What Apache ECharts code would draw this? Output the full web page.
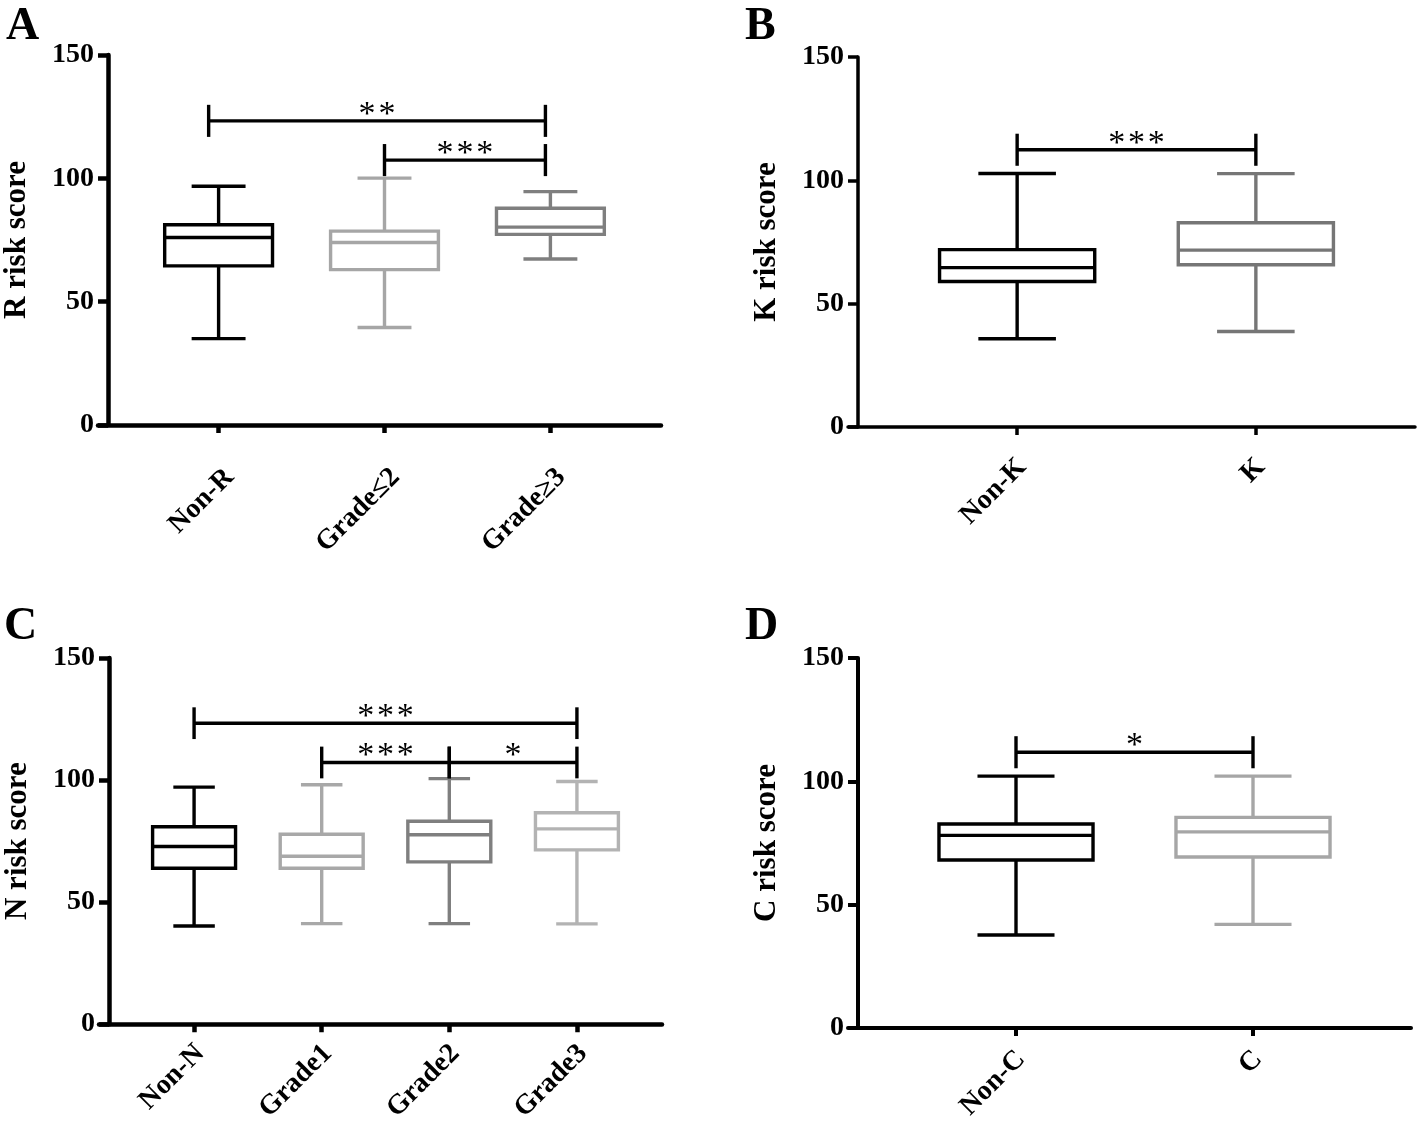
<!DOCTYPE html>
<html>
<head>
<meta charset="utf-8">
<script src="https://cdn.jsdelivr.net/npm/echarts@6/dist/echarts.min.js"></script>
<style>
html,body{margin:0;padding:0;background:#fff;}
#chart{width:1418px;height:1125px;}
</style>
</head>
<body>
<div id="chart"></div>
<script>
// ---------- DATA ----------
// Panel A
const catsA = ['Non-R', 'Grade≤2', 'Grade≥3'];
const minA = [35.0, 39.5, 67.3];
const q1A  = [64.5, 63.0, 77.3];
const medA = [76.0, 74.0, 80.2];
const q3A  = [81.2, 78.6, 87.9];
const maxA = [96.8, 100.1, 94.6];
const sigFromA = [-0.06, 1];
const sigToA   = [1.97, 1.97];
const sigYA    = [123.3, 107.4];
const sigTextA = ['**', '***'];

// Panel B
const catsB = ['Non-K', 'K'];
const minB = [35.8, 38.7];
const q1B  = [59.0, 65.8];
const medB = [64.6, 71.7];
const q3B  = [71.9, 82.8];
const maxB = [102.8, 102.7];
const sigFromB = [0];
const sigToB   = [1];
const sigYB    = [112.4];
const sigTextB = ['***'];

// Panel C
const catsC = ['Non-N', 'Grade1', 'Grade2', 'Grade3'];
const minC = [40.2, 41.2, 41.2, 41.1];
const q1C  = [63.9, 63.9, 66.5, 71.4];
const medC = [72.8, 68.8, 77.6, 80.0];
const q3C  = [80.9, 77.8, 83.1, 86.6];
const maxC = [97.1, 98.1, 100.6, 99.4];
const sigFromC = [0, 1, 2];
const sigToC   = [3, 2, 3];
const sigYC    = [123.3, 107.2, 107.2];
const sigTextC = ['***', '***', '*'];

// Panel D
const catsD = ['Non-C', 'C'];
const minD = [37.7, 42.0];
const q1D  = [68.1, 69.3];
const medD = [78.1, 79.5];
const q3D  = [82.7, 85.4];
const maxD = [102.1, 102.1];
const sigFromD = [0];
const sigToD   = [1];
const sigYD    = [111.8];
const sigTextD = ['*'];

const yTicks = [0, 50, 100, 150];

// ---------- STYLE ----------
const SERIF = '"Liberation Serif", "Times New Roman", serif';
const panels = [
  {letter:'A', name:'R risk score', cats:catsA, mn:minA, q1:q1A, md:medA, q3:q3A, mx:maxA,
   sf:sigFromA, st:sigToA, sy:sigYA, stx:sigTextA,
   colors:['#000000', '#a6a6a6', '#7f7f7f'],
   grid:{left:98, top:55, width:563, height:370}, axisW:4.5, labelMargin:48, labelShift:11, letterPos:[6,4]},
  {letter:'B', name:'K risk score', cats:catsB, mn:minB, q1:q1B, md:medB, q3:q3B, mx:maxB,
   sf:sigFromB, st:sigToB, sy:sigYB, stx:sigTextB,
   colors:['#000000', '#767676'],
   grid:{left:848, top:57, width:567, height:370}, axisW:3.5, labelMargin:36, labelShift:5, letterPos:[745,4]},
  {letter:'C', name:'N risk score', cats:catsC, mn:minC, q1:q1C, md:medC, q3:q3C, mx:maxC,
   sf:sigFromC, st:sigToC, sy:sigYC, stx:sigTextC,
   colors:['#000000', '#a8a8a8', '#7f7f7f', '#b3b3b3'],
   grid:{left:99, top:658, width:563, height:369}, axisW:4.5, labelMargin:25, labelShift:6, letterPos:[4,604]},
  {letter:'D', name:'C risk score', cats:catsD, mn:minD, q1:q1D, md:medD, q3:q3D, mx:maxD,
   sf:sigFromD, st:sigToD, sy:sigYD, stx:sigTextD,
   colors:['#000000', '#a6a6a6'],
   grid:{left:848, top:658, width:563, height:370}, axisW:4, labelMargin:27, labelShift:5, letterPos:[745,604]}
];
const BOX_W = 0.65;      // box width in category steps
const LW = 3.4;          // line width of boxes / brackets
const TICK_H = 6.5;      // bracket end tick half height (data units)
const YTICK_LEN = 10;

const grids = [], xAxes = [], yAxes = [], series = [], graphics = [];

panels.forEach(function(p, k) {
  const n = p.cats.length;
  const span = (n - 1) + 4 / 3;
  const step = (p.grid.width - YTICK_LEN) / span;
  const xmin = -2 / 3 - YTICK_LEN / step;
  const xmax = (n - 1) + 2 / 3;
  const idx = p.cats.map(function(_, i) { return i; });
  const shift = p.labelShift / step;
  const labelPos = idx.map(function(i) { return i + shift; });

  grids.push(Object.assign({containLabel:false}, p.grid));

  xAxes.push({
    gridIndex:k, type:'value', min:xmin, max:xmax,
    splitLine:{show:false},
    axisLine:{show:true, onZero:false, lineStyle:{color:'#000', width:p.axisW}},
    axisTick:{show:true, length:8, lineStyle:{color:'#000', width:p.axisW}, customValues:idx},
    axisLabel:{
      show:true, customValues:labelPos, rotate:45, margin:p.labelMargin,
      color:'#000', fontFamily:SERIF, fontWeight:'bold', fontSize:28,
      formatter:function(v){ return p.cats[Math.round(v)]; }
    }
  });

  yAxes.push({
    gridIndex:k, type:'value', min:0, max:150, interval:50, offset:-YTICK_LEN,
    name:p.name, nameLocation:'middle', nameGap:76,
    nameTextStyle:{color:'#000', fontFamily:SERIF, fontWeight:'bold', fontSize:31},
    splitLine:{show:false},
    axisLine:{show:true, onZero:false, lineStyle:{color:'#000', width:p.axisW}},
    axisTick:{show:true, length:YTICK_LEN, lineStyle:{color:'#000', width:p.axisW}},
    axisLabel:{show:true, margin:YTICK_LEN + 4, color:'#000', fontFamily:SERIF, fontWeight:'bold', fontSize:28,
      customValues:yTicks}
  });

  const boxData = p.cats.map(function(_, i) {
    return [i, p.mn[i], p.q1[i], p.md[i], p.q3[i], p.mx[i]];
  });
  series.push({
    type:'custom', xAxisIndex:k, yAxisIndex:k, silent:true, clip:false,
    encode:{x:0, y:[1,2,3,4,5]},
    data:boxData,
    renderItem:function(params, api) {
      const i = api.value(0);
      const pHi = api.coord([i, api.value(5)]);
      const pQ3 = api.coord([i, api.value(4)]);
      const pMd = api.coord([i, api.value(3)]);
      const pQ1 = api.coord([i, api.value(2)]);
      const pLo = api.coord([i, api.value(1)]);
      const bw = api.size([BOX_W, 0])[0];
      const cw = bw / 2;
      const x = pMd[0];
      const c = p.colors[params.dataIndex];
      const ls = {stroke:c, lineWidth:LW, fill:null};
      return {type:'group', children:[
        {type:'line', shape:{x1:x, y1:pHi[1], x2:x, y2:pQ3[1]}, style:ls},
        {type:'line', shape:{x1:x, y1:pQ1[1], x2:x, y2:pLo[1]}, style:ls},
        {type:'line', shape:{x1:x - cw/2, y1:pHi[1], x2:x + cw/2, y2:pHi[1]}, style:ls},
        {type:'line', shape:{x1:x - cw/2, y1:pLo[1], x2:x + cw/2, y2:pLo[1]}, style:ls},
        {type:'rect', shape:{x:x - bw/2, y:pQ3[1], width:bw, height:pQ1[1] - pQ3[1]},
          style:{stroke:c, lineWidth:LW, fill:'#ffffff'}},
        {type:'line', shape:{x1:x - bw/2, y1:pMd[1], x2:x + bw/2, y2:pMd[1]}, style:ls}
      ]};
    }
  });

  const sigData = p.sf.map(function(_, i) { return [p.sf[i], p.st[i], p.sy[i]]; });
  series.push({
    type:'custom', xAxisIndex:k, yAxisIndex:k, silent:true, clip:false,
    encode:{x:[0,1], y:2},
    data:sigData,
    renderItem:function(params, api) {
      const a = api.coord([api.value(0), api.value(2)]);
      const b = api.coord([api.value(1), api.value(2)]);
      const t1 = api.coord([api.value(0), api.value(2) + TICK_H]);
      const t2 = api.coord([api.value(0), api.value(2) - TICK_H]);
      const ls = {stroke:'#000', lineWidth:LW, fill:null};
      const label = p.stx[params.dataIndex].split('').join('\u200a');
      return {type:'group', children:[
        {type:'line', shape:{x1:a[0], y1:a[1], x2:b[0], y2:b[1]}, style:ls},
        {type:'line', shape:{x1:a[0], y1:t1[1], x2:a[0], y2:t2[1]}, style:ls},
        {type:'line', shape:{x1:b[0], y1:t1[1], x2:b[0], y2:t2[1]}, style:ls},
        {type:'text', x:(a[0] + b[0]) / 2, y:a[1] - 6,
          style:{text:label, fill:'#000',
            font:'normal 34px ' + SERIF, align:'center', verticalAlign:'middle'}}
      ]};
    }
  });

  graphics.push({type:'text', left:p.letterPos[0], top:p.letterPos[1],
    style:{text:p.letter, fill:'#000', font:'bold 46px ' + SERIF}});
});

const chart = echarts.init(document.getElementById('chart'), null, {renderer:'canvas'});
chart.setOption({
  animation:false,
  backgroundColor:'#ffffff',
  grid:grids, xAxis:xAxes, yAxis:yAxes, series:series, graphic:graphics
});
</script>
</body>
</html>
